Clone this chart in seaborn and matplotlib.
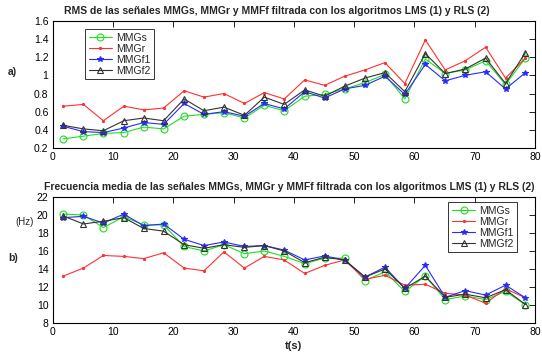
import matplotlib
matplotlib.use("Agg")
import matplotlib.pyplot as plt
import seaborn as sns
import numpy as np

t = [1.7, 5.1, 8.4, 11.8, 15.1, 18.4, 21.8, 25.1, 28.4, 31.8, 35.1, 38.4,
     41.8, 45.1, 48.4, 51.8, 55.1, 58.4, 61.8, 65.1, 68.4, 71.8, 75.1, 78.4]

rms_mmgs = [0.30, 0.33, 0.36, 0.37, 0.43, 0.41, 0.55, 0.57, 0.59, 0.53, 0.67, 0.61,
            0.77, 0.79, 0.85, 0.92, 1.01, 0.74, 1.18, 1.02, 1.06, 1.16, 0.90, 1.19]
rms_mmgr = [0.66, 0.68, 0.50, 0.66, 0.62, 0.64, 0.83, 0.76, 0.80, 0.69, 0.81, 0.74,
            0.95, 0.89, 0.99, 1.06, 1.14, 0.91, 1.39, 1.06, 1.16, 1.31, 0.97, 1.19]
rms_mmgf1 = [0.44, 0.38, 0.37, 0.42, 0.48, 0.46, 0.69, 0.57, 0.60, 0.55, 0.69, 0.63,
             0.82, 0.75, 0.85, 0.89, 0.99, 0.79, 1.12, 0.94, 1.00, 1.04, 0.85, 1.03]
rms_mmgf2 = [0.45, 0.41, 0.39, 0.50, 0.53, 0.50, 0.74, 0.61, 0.65, 0.56, 0.76, 0.68,
             0.84, 0.77, 0.88, 0.97, 1.03, 0.82, 1.24, 1.02, 1.07, 1.19, 0.91, 1.25]

fm_mmgs = [20.1, 20.0, 18.6, 19.8, 18.9, 18.9, 16.5, 16.0, 16.7, 15.7, 16.0, 15.4,
           14.6, 15.2, 15.2, 12.7, 13.7, 11.5, 13.2, 10.6, 11.0, 10.6, 11.5, 10.05]
fm_mmgr = [13.2, 14.1, 15.5, 15.4, 15.15, 15.8, 14.1, 13.8, 15.9, 14.1, 15.4, 15.0,
           13.5, 14.4, 15.0, 12.85, 13.3, 12.2, 12.3, 11.3, 11.1, 10.2, 11.8, 10.8]
fm_mmgf1 = [19.7, 19.85, 19.1, 20.1, 18.8, 19.0, 17.3, 16.6, 17.0, 16.5, 16.6, 16.1,
            15.0, 15.45, 15.0, 13.1, 14.2, 11.85, 14.4, 10.85, 11.6, 11.1, 12.2, 10.8]
fm_mmgf2 = [19.9, 19.0, 19.3, 19.7, 18.5, 18.2, 16.7, 16.3, 16.7, 16.4, 16.6, 16.0,
            14.7, 15.3, 15.0, 13.1, 14.0, 11.85, 13.2, 10.85, 11.2, 10.8, 11.7, 10.05]

names = ["MMGs", "MMGr", "MMGf1", "MMGf2"]
colors = ["#22dd22", "#ff3030", "#2a2aff", "#333333"]
markers = ["o", ".", "*", "^"]
msizes = [5, 3, 4, 5]

sns.set_style("white")
plt.rcParams['font.family'] = ['Liberation Sans', 'DejaVu Sans']

fig = plt.figure(figsize=(5.42, 3.54), dpi=100)
ax1 = fig.add_axes([0.0972, 0.582, 0.890, 0.359])
ax2 = fig.add_axes([0.0972, 0.0876, 0.890, 0.356])


def draw(ax, series):
    for y, n, c, m, ms in zip(series, names, colors, markers, msizes):
        mfc = "none" if m in ("o", "^") else c
        sns.lineplot(x=t, y=y, ax=ax, color=c, marker=m, markersize=ms,
                     markerfacecolor=mfc, markeredgecolor=c, markeredgewidth=0.8,
                     linewidth=0.8, label=n)


draw(ax1, [rms_mmgs, rms_mmgr, rms_mmgf1, rms_mmgf2])
draw(ax2, [fm_mmgs, fm_mmgr, fm_mmgf1, fm_mmgf2])

for ax in (ax1, ax2):
    ax.set_xlim(0, 80)
    ax.set_xticks(range(0, 81, 10))
    ax.tick_params(direction="in", top=True, right=True, length=4, width=0.6,
                   labelsize=7.5, colors="black", pad=3)
    for s in ax.spines.values():
        s.set_color("black")
        s.set_linewidth(0.8)
    ax.grid(False)

ax1.set_ylim(0.2, 1.6)
ax1.set_yticks([0.2, 0.4, 0.6, 0.8, 1.0, 1.2, 1.4, 1.6])
ax1.set_yticklabels(["0.2", "0.4", "0.6", "0.8", "1", "1.2", "1.4", "1.6"])
ax2.set_ylim(8, 22)
ax2.set_yticks(range(8, 23, 2))

ax1.set_title("RMS de las señales MMGs, MMGr y MMFf filtrada con los algoritmos LMS (1) y RLS (2)",
              fontsize=7.5, fontweight="bold", pad=5, x=0.465)
ax2.set_title("Frecuencia media de las señales MMGs, MMGr y MMFf filtrada con los algoritmos LMS (1) y RLS (2)",
              fontsize=7.5, fontweight="bold", pad=5, x=0.49)
ax2.set_xlabel("t(s)", fontsize=8, fontweight="bold", labelpad=3)
ax1.set_xlabel("")

fig.text(8 / 542, 1 - 72 / 354, "a)", fontsize=7.5, fontweight="bold", va="center")
fig.text(8 / 542, 1 - 258 / 354, "b)", fontsize=7.5, fontweight="bold", va="center")
fig.text(15 / 542, 1 - 222 / 354, "(Hz)", fontsize=7, va="center")

legkw = dict(fontsize=7.5, frameon=True, fancybox=False, handlelength=2.2,
             borderpad=0.35, labelspacing=0.1, handletextpad=0.4, borderaxespad=0)
leg1 = ax1.legend(loc="upper left", bbox_to_anchor=(0.067, 0.937), **legkw)
leg1.get_frame().set_edgecolor("black")
leg1.get_frame().set_linewidth(0.7)
leg2 = ax2.legend(loc="upper right", bbox_to_anchor=(0.963, 0.96), **legkw)
leg2.get_frame().set_edgecolor("black")
leg2.get_frame().set_linewidth(0.7)

fig.savefig("out.png", dpi=100)
